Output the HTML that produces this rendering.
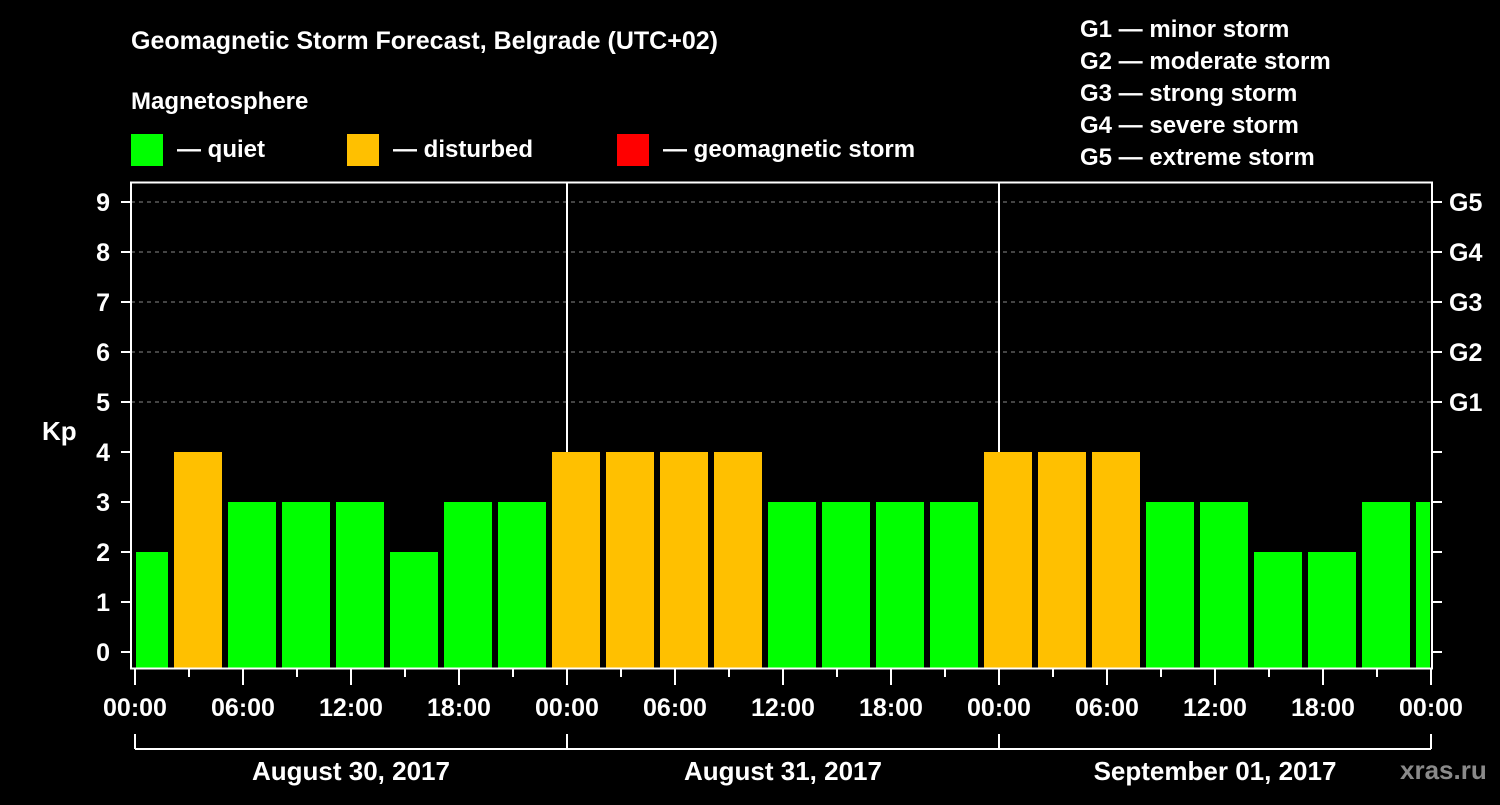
<!DOCTYPE html>
<html><head><meta charset="utf-8"><style>
body{margin:0;background:#000;}
svg text{font-family:"Liberation Sans",sans-serif;font-weight:bold;fill:#fff;}
</style></head><body>
<svg id="c" width="1500" height="800" xmlns="http://www.w3.org/2000/svg">
<rect width="1500" height="800" fill="#000"/>
<text x="131" y="49" font-size="25">Geomagnetic Storm Forecast, Belgrade (UTC+02)</text>
<text x="131" y="109" font-size="24">Magnetosphere</text>
<g><rect x="131" y="134" width="32" height="32" fill="#00ff00"/><text x="177" y="157" font-size="24">— quiet</text></g>
<g><rect x="347" y="134" width="32" height="32" fill="#ffc000"/><text x="393" y="157" font-size="24">— disturbed</text></g>
<g><rect x="617" y="134" width="32" height="32" fill="#ff0000"/><text x="663" y="157" font-size="24">— geomagnetic storm</text></g>
<g font-size="24">
<text x="1080" y="37">G1 — minor storm</text>
<text x="1080" y="69">G2 — moderate storm</text>
<text x="1080" y="101">G3 — strong storm</text>
<text x="1080" y="133">G4 — severe storm</text>
<text x="1080" y="165">G5 — extreme storm</text>
</g>
<text x="42" y="440" font-size="26">Kp</text>
<text x="1400" y="779" font-size="26" fill="#888" style="fill:#8a8a8a">xras.ru</text>
<g id="grid"></g><g id="bars"></g><g id="axes"></g>
</svg>
<script>
const kpValues=[2,4,3,3,3,2,3,3,4,4,4,4,3,3,3,3,4,4,4,3,3,2,2,3,3];
const binStartHours=[-1,2,5,8,11,14,17,20,23,26,29,32,35,38,41,44,47,50,53,56,59,62,65,68,71];
const yTicks=[0,1,2,3,4,5,6,7,8,9];
const gLabels=["G1","G2","G3","G4","G5"];
const xTickLabels=["00:00","06:00","12:00","18:00","00:00","06:00","12:00","18:00","00:00","06:00","12:00","18:00","00:00"];
const dateLabels=["August 30, 2017","August 31, 2017","September 01, 2017"];
const NS="http://www.w3.org/2000/svg";
const x0=135,pxH=18,totalH=72,xEnd=x0+pxH*totalH;
const X=h=>x0+h*pxH;
const Y=v=>652-v*50;
function el(t,a,p){const e=document.createElementNS(NS,t);for(const k in a)e.setAttribute(k,a[k]);document.getElementById(p).appendChild(e);return e;}
// grid
[5,6,7,8,9].forEach(v=>{const e=el('line',{x1:131,x2:1432,y1:Y(v),y2:Y(v),stroke:'#888','stroke-dasharray':'4,4','stroke-width':1},'grid');

});
// bars
kpValues.forEach((v,i)=>{let a=X(binStartHours[i])+3,b=X(binStartHours[i]+3)-3;a=Math.max(a,136);b=Math.min(b,1430);
const col=v>=5?'#ff0000':(v>=4?'#ffc000':'#00ff00');
const r=el('rect',{x:a,y:Y(v),width:b-a,height:668-Y(v),fill:col},'bars');

});
// frame
const f=el('rect',{x:131,y:182.5,width:1301,height:486,fill:'none',stroke:'#fff','stroke-width':2},'axes');


[1,2].forEach(d=>{const l=el('line',{x1:X(24*d),x2:X(24*d),y1:182,y2:452,stroke:'#fff','stroke-width':2},'axes');

});
yTicks.forEach(v=>{el('line',{x1:121,x2:131,y1:Y(v),y2:Y(v),stroke:'#fff','stroke-width':2},'axes');
el('line',{x1:1432,x2:1442,y1:Y(v),y2:Y(v),stroke:'#fff','stroke-width':2},'axes');
const t=el('text',{x:110,y:Y(v)+9,'font-size':25,'text-anchor':'end'},'axes');t.textContent=v;

});
gLabels.forEach((g,i)=>{const t=el('text',{x:1449,y:Y(5+i)+9,'font-size':25},'axes');t.textContent=g;

});
for(let h=0;h<=72;h+=3){const major=h%6===0;el('line',{x1:X(h),x2:X(h),y1:669,y2:major?685:677,stroke:'#fff','stroke-width':2},'axes');}
xTickLabels.forEach((s,i)=>{const t=el('text',{x:X(i*6),y:716,'font-size':25,'text-anchor':'middle'},'axes');t.textContent=s;

});
el('line',{x1:x0,x2:xEnd,y1:749,y2:749,stroke:'#fff','stroke-width':2},'axes');
[0,1,2,3].forEach(d=>el('line',{x1:X(24*d),x2:X(24*d),y1:734,y2:749,stroke:'#fff','stroke-width':2},'axes'));
dateLabels.forEach((s,i)=>{const t=el('text',{x:X(24*i+12),y:780,'font-size':26,'text-anchor':'middle'},'axes');t.textContent=s;

});
</script>
</body></html>
